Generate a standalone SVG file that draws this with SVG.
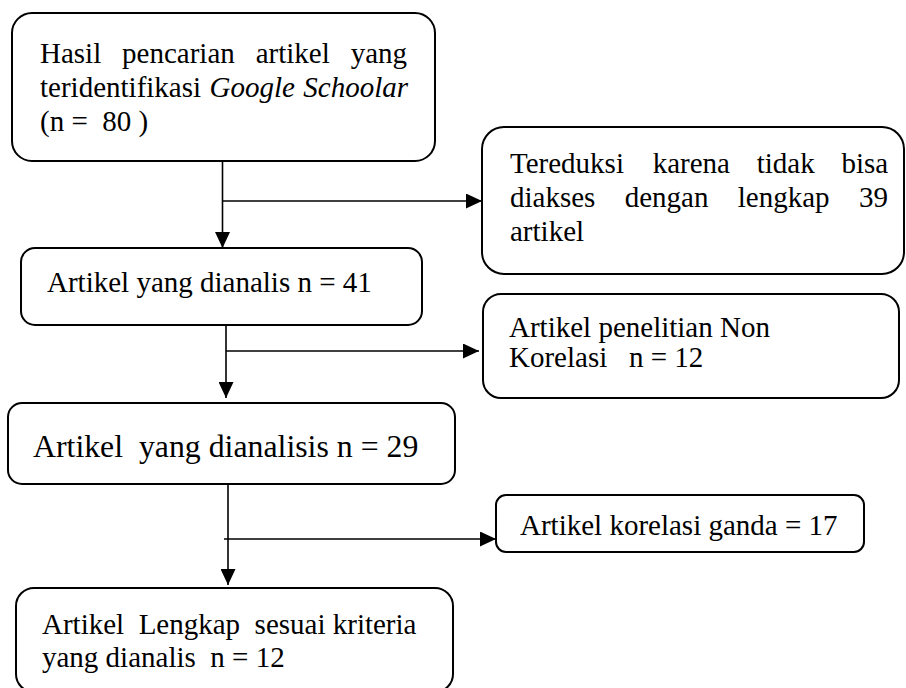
<svg xmlns="http://www.w3.org/2000/svg" width="906" height="688" viewBox="0 0 906 688">
<defs>
<style>
.box{fill:#fff;stroke:#000;stroke-width:2}
.t{font-family:"Liberation Serif","Times New Roman",serif;font-size:29px;fill:#000;white-space:pre}
.c{stroke:#000;stroke-width:1.6;fill:none}
</style>
<marker id="ah" markerUnits="userSpaceOnUse" markerWidth="16" markerHeight="15" refX="16" refY="7.5" orient="auto">
<path d="M0,0 L16,7.5 L0,15 z" fill="#000"/>
</marker>
</defs>
<rect width="906" height="688" fill="#fff"/>
<g id="connectors">
<line class="c" x1="222.5" y1="161" x2="222.5" y2="248" marker-end="url(#ah)"/>
<line class="c" x1="222.5" y1="201" x2="482" y2="201" marker-end="url(#ah)"/>
<line class="c" x1="226" y1="325" x2="226" y2="398" marker-end="url(#ah)"/>
<line class="c" x1="226" y1="351" x2="479" y2="351" marker-end="url(#ah)"/>
<line class="c" x1="228" y1="484" x2="228" y2="585" marker-end="url(#ah)"/>
<line class="c" x1="224" y1="539" x2="496" y2="539" marker-end="url(#ah)"/>
</g>
<g id="node-hasil">
<rect class="box" x="12" y="13" width="423" height="148" rx="20"/>
<text class="t" y="63"><tspan x="40">Hasil</tspan><tspan x="122.1">pencarian</tspan><tspan x="255.7">artikel</tspan><tspan x="350.7">yang</tspan></text>
<text class="t" y="97"><tspan x="40">teridentifikasi</tspan><tspan x="209.5" font-style="italic">Google</tspan><tspan x="303.3" font-style="italic">Schoolar</tspan></text>
<text class="t" x="40" y="131" xml:space="preserve">(n =  80 )</text>
</g>
<g id="node-tereduksi">
<rect class="box" x="482" y="127" width="422" height="147" rx="22"/>
<text class="t" y="173"><tspan x="510">Tereduksi</tspan><tspan x="652.7">karena</tspan><tspan x="756.7">tidak</tspan><tspan x="841.4">bisa</tspan></text>
<text class="t" y="207"><tspan x="510">diakses</tspan><tspan x="624.7">dengan</tspan><tspan x="737.8">lengkap</tspan><tspan x="858.9">39</tspan></text>
<text class="t" x="510" y="241">artikel</text>
</g>
<g id="node-dianalis41">
<rect class="box" x="21" y="248" width="401" height="77" rx="14"/>
<text class="t" x="47" y="292">Artikel yang dianalis n = 41</text>
</g>
<g id="node-nonkorelasi">
<rect class="box" x="483" y="294" width="416" height="104" rx="18"/>
<text class="t" x="509" y="337">Artikel penelitian Non</text>
<text class="t" x="509" y="367" xml:space="preserve">Korelasi   n = 12</text>
</g>
<g id="node-dianalisis29">
<rect class="box" x="8" y="403" width="447" height="81" rx="14"/>
<text class="t" x="33" y="457" style="font-size:31.8px" xml:space="preserve">Artikel  yang dianalisis n = 29</text>
</g>
<g id="node-korelasiganda">
<rect class="box" x="496" y="495" width="368" height="57" rx="10"/>
<text class="t" x="520" y="535">Artikel korelasi ganda = 17</text>
</g>
<g id="node-lengkap">
<rect class="box" x="16" y="588" width="437" height="104" rx="18"/>
<text class="t" x="42" y="634" xml:space="preserve">Artikel  Lengkap  sesuai kriteria</text>
<text class="t" x="42" y="667" xml:space="preserve">yang dianalis  n = 12</text>
</g>
</svg>
